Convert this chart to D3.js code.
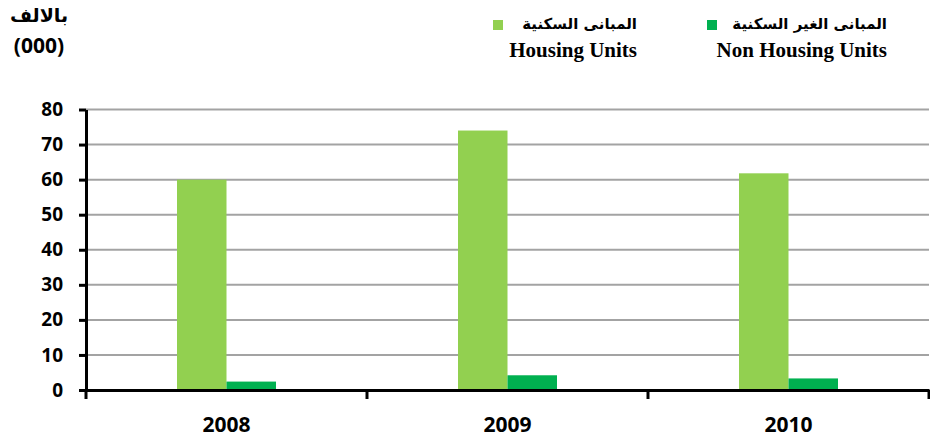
<!DOCTYPE html>
<html>
<head>
  <meta charset="utf-8">
  <title>Housing units</title>
  <style>
    body { margin: 0; background: #fff; }
    .tick-lbl { font-family: "Open Sans", Lato, sans-serif; font-weight: bold; fill: #000; }
    .leg-ar { font-family: "DejaVu Sans", sans-serif; font-weight: bold; font-size: 15px; fill: #000; }
    .leg-en { font-family: "Liberation Serif", "Times New Roman", serif; font-weight: bold; font-size: 21px; fill: #000; }
  </style>
</head>
<body>
  <svg width="930" height="444"></svg>
  <script src="https://d3js.org/d3.v7.min.js"></script>
  <script>
  // data
  var years = ["2008", "2009", "2010"];
  var housing = [60, 74, 61.8];
  var nonHousing = [2.4, 4.2, 3.3];
  var seriesKeys = ["housing", "nonHousing"];
  var seriesAr = ["المبانى السكنية", "المبانى الغير السكنية"];
  var seriesEn = ["Housing Units", "Non Housing Units"];
  var seriesColors = ["#92D050", "#00B050"];
  var yTicks = [0, 10, 20, 30, 40, 50, 60, 70, 80];

  var rows = years.map(function(y, i) {
    return {year: y, housing: housing[i], nonHousing: nonHousing[i]};
  });

  var svg = d3.select("svg");

  var mLeft = 86, mRight = 929, mTop = 109.5, mBottom = 390;

  var x0 = d3.scaleBand().domain(years).range([mLeft, mRight]).padding(0);
  var bw = x0.bandwidth();
  var x1 = d3.scaleBand().domain(seriesKeys).range([bw / 2 - 49.5, bw / 2 + 49.5]).padding(0);
  var y = d3.scaleLinear().domain([0, 80]).range([mBottom, mTop]);

  // gridlines
  svg.append("g")
    .selectAll("line")
    .data(yTicks.filter(function(d) { return d > 0; }))
    .enter()
    .append("line")
    .attr("x1", mLeft)
    .attr("x2", mRight)
    .attr("y1", function(d) { return y(d); })
    .attr("y2", function(d) { return y(d); })
    .attr("stroke", "#a3a3a3")
    .attr("stroke-width", 2);

  // bars
  var groups = svg.append("g")
    .selectAll("g")
    .data(rows)
    .enter()
    .append("g")
    .attr("transform", function(d) { return "translate(" + x0(d.year) + ",0)"; });

  groups.selectAll("rect")
    .data(function(d) { return seriesKeys.map(function(k, i) { return {key: k, value: d[k], color: seriesColors[i]}; }); })
    .enter()
    .append("rect")
    .attr("x", function(d) { return x1(d.key); })
    .attr("width", x1.bandwidth())
    .attr("y", function(d) { return y(d.value); })
    .attr("height", function(d) { return mBottom - y(d.value); })
    .attr("fill", function(d) { return d.color; });

  // y axis
  var yAxis = svg.append("g")
    .attr("transform", "translate(" + mLeft + ",0)")
    .call(d3.axisLeft(y).tickValues(yTicks).tickSize(7).tickPadding(16).tickSizeOuter(0));
  yAxis.select(".domain").attr("stroke", "#000").attr("stroke-width", 3);
  yAxis.selectAll(".tick line").attr("stroke", "#000").attr("stroke-width", 3);
  yAxis.selectAll(".tick text").attr("class", "tick-lbl").style("font-size", "19px");

  // x axis
  var xAxis = svg.append("g")
    .attr("transform", "translate(0," + mBottom + ")")
    .call(d3.axisBottom(x0).tickSize(0).tickPadding(27));
  xAxis.select(".domain").attr("stroke", "#000").attr("stroke-width", 3);
  xAxis.selectAll(".tick text").attr("class", "tick-lbl").style("font-size", "21px");

  // category separators
  svg.append("g")
    .selectAll("line")
    .data(years)
    .enter()
    .append("line")
    .attr("x1", function(d) { return x0(d) + bw; })
    .attr("x2", function(d) { return x0(d) + bw; })
    .attr("y1", mBottom)
    .attr("y2", mBottom + 9)
    .attr("stroke", "#000")
    .attr("stroke-width", 3);
  svg.append("line")
    .attr("x1", mLeft).attr("x2", mLeft)
    .attr("y1", mBottom).attr("y2", mBottom + 9)
    .attr("stroke", "#000").attr("stroke-width", 3);

  // unit label
  svg.append("text")
    .attr("x", 39).attr("y", 22)
    .attr("text-anchor", "middle")
    .attr("class", "tick-lbl")
    .style("font-family", "'DejaVu Sans', sans-serif")
    .style("font-size", "19px")
    .text("بالالف");
  svg.append("text")
    .attr("x", 39).attr("y", 53)
    .attr("text-anchor", "middle")
    .attr("class", "tick-lbl")
    .style("font-size", "21px")
    .text("(000)");

  // legend
  var legX = [493, 707];
  var legRight = [637, 887];
  var leg = svg.append("g")
    .selectAll("g")
    .data(seriesKeys)
    .enter()
    .append("g");
  leg.append("rect")
    .attr("x", function(d, i) { return legX[i]; })
    .attr("y", 20)
    .attr("width", 10)
    .attr("height", 10)
    .attr("fill", function(d, i) { return seriesColors[i]; });
  leg.append("text")
    .attr("class", "leg-ar")
    .attr("x", function(d, i) { return legRight[i]; })
    .attr("y", 29)
    .attr("text-anchor", "end")
    .text(function(d, i) { return seriesAr[i]; });
  leg.append("text")
    .attr("class", "leg-en")
    .attr("x", function(d, i) { return legRight[i]; })
    .attr("y", 57)
    .attr("text-anchor", "end")
    .text(function(d, i) { return seriesEn[i]; });
  </script>
</body>
</html>
